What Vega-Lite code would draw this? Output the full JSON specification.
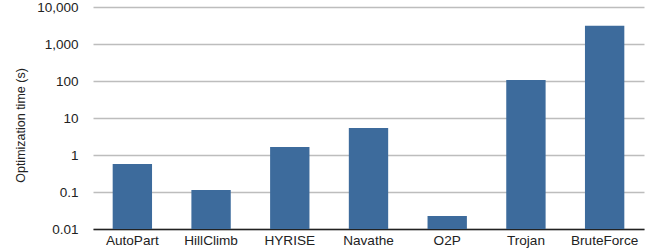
{
  "$schema": "https://vega.github.io/schema/vega-lite/v6.json",
  "width": 551,
  "height": 222,
  "autosize": {"type": "none"},
  "padding": {"left": 93, "top": 7, "right": 5, "bottom": 21},
  "background": "white",
  "config": {
    "view": {"stroke": null},
    "font": "Liberation Sans"
  },
  "data": {
    "values": [
      {"method": "AutoPart", "time": 0.57},
      {"method": "HillClimb", "time": 0.113},
      {"method": "HYRISE", "time": 1.64},
      {"method": "Navathe", "time": 5.4},
      {"method": "O2P", "time": 0.0224},
      {"method": "Trojan", "time": 106},
      {"method": "BruteForce", "time": 3100}
    ]
  },
  "mark": {"type": "bar", "color": "#3d6b9c"},
  "encoding": {
    "x": {
      "field": "method",
      "type": "nominal",
      "sort": null,
      "scale": {"paddingInner": 0.5, "paddingOuter": 0.25},
      "axis": {
        "title": null,
        "labelAngle": 0,
        "labelFontSize": 13.6,
        "labelColor": "#222222",
        "ticks": false,
        "labelPadding": 4,
        "domainColor": "#222222",
        "domainWidth": 1.5,
        "grid": false
      }
    },
    "y": {
      "field": "time",
      "type": "quantitative",
      "scale": {"type": "log", "domain": [0.01, 10000], "nice": false},
      "axis": {
        "title": "Optimization time (s)",
        "titleFontSize": 12.5,
        "titleFontWeight": "normal",
        "titleColor": "#222222",
        "titlePadding": 9,
        "titleY": 118,
        "values": [0.01, 0.1, 1, 10, 100, 1000, 10000],
        "format": ",~g",
        "labelFontSize": 13.5,
        "labelColor": "#222222",
        "labelPadding": 15,
        "ticks": false,
        "domain": false,
        "grid": true,
        "gridColor": "#bdbdbd",
        "gridWidth": 1.5
      }
    },
    "y2": {"datum": 0.01}
  }
}
